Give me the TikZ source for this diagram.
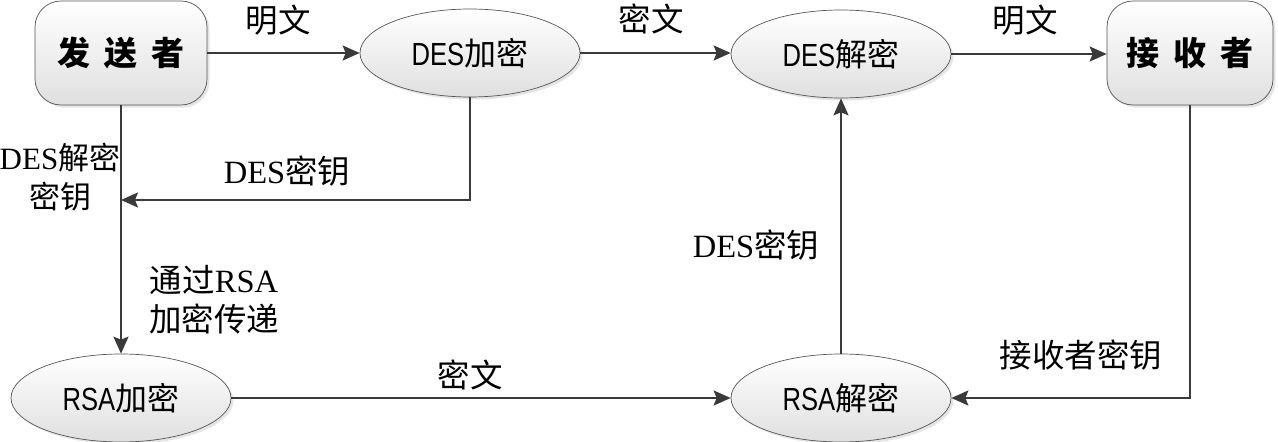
\documentclass[tikz,border=0pt]{standalone}
\usepackage{fontspec}
\setmainfont{Liberation Serif}
\newfontfamily\cjk{Noto Sans CJK SC}
\newfontfamily\narrowlat[FakeStretch=0.8]{Liberation Sans}
\usetikzlibrary{shapes.geometric,arrows.meta,shadows}
\definecolor{linec}{HTML}{3A3A3A}
\definecolor{edgec}{HTML}{555555}
\begin{document}
\begin{tikzpicture}[x=1pt,y=-1pt,
  conn/.style={draw=linec, line width=2pt, -{Stealth[length=17pt,width=15pt,inset=3pt]}},
  shade/.style={top color=white, bottom color=gray!25, draw=edgec, line width=0.7pt,
    drop shadow={shadow xshift=2.5pt, shadow yshift=-2.5pt, fill=gray!40}},
  box/.style={shade, rectangle, rounded corners=26pt, minimum width=172pt, minimum height=104pt,
    inner sep=0pt, font=\cjk\bfseries\fontsize{33}{33}\selectfont},
  ell/.style={shade, ellipse, minimum width=220pt, minimum height=88pt, inner sep=0pt,
    font=\fontsize{32}{32}\selectfont},
  lab/.style={inner sep=0pt, align=center, font=\fontsize{32.5}{39}\selectfont}
]
\useasboundingbox (0,0) rectangle (1278,442);

% nodes
\node[box] (S) at (121,53) {发\hspace{14pt}送\hspace{14pt}者};
\node[box, minimum width=166pt] (R) at (1190,53) {接\hspace{14pt}收\hspace{14pt}者};
\node[ell] (E1) at (470,53) {{\narrowlat DES}{\cjk 加密}};
\node[ell] (D1) at (841,54) {{\narrowlat DES}{\cjk 解密}};
\node[ell] (E2) at (121,398) {{\narrowlat RSA}{\cjk 加密}};
\node[ell] (D2) at (841,398) {{\narrowlat RSA}{\cjk 解密}};

\coordinate (J) at (121,200);

% connectors
\draw[conn] (S.east) -- (E1.west);
\draw[conn] (E1.east) -- (E1.east -| D1.west);
\draw[conn] (D1.east) -- (D1.east -| R.west);
\draw[conn] (E1.south) |- (J);
\draw[conn] (S.south) -- (E2.north);
\draw[conn] (E2.east) -- (D2.west);
\draw[conn] (D2.north) -- (D1.south);
\draw[conn] (R.south) |- (D2.east);

% labels
\node[lab] (l1) at (278,20) {\cjk 明文};
\node[lab] (l2) at (651,19) {\cjk 密文};
\node[lab] (l3) at (1025,20) {\cjk 明文};
\node[lab] (l4) at (287,171) {DES{\cjk 密钥}};
\node[lab, font=\fontsize{31}{39}\selectfont] (l5) at (60,177) {DES{\cjk 解密}\\{\cjk 密钥}};
\node[lab] (l6) at (214,300) {{\cjk 通过}RSA\\{\cjk 加密传递}};
\node[lab] (l7) at (470,375) {\cjk 密文};
\node[lab] (l8) at (756,245) {DES{\cjk 密钥}};
\node[lab] (l9) at (1081,355) {\cjk 接收者密钥};
\end{tikzpicture}
\end{document}
